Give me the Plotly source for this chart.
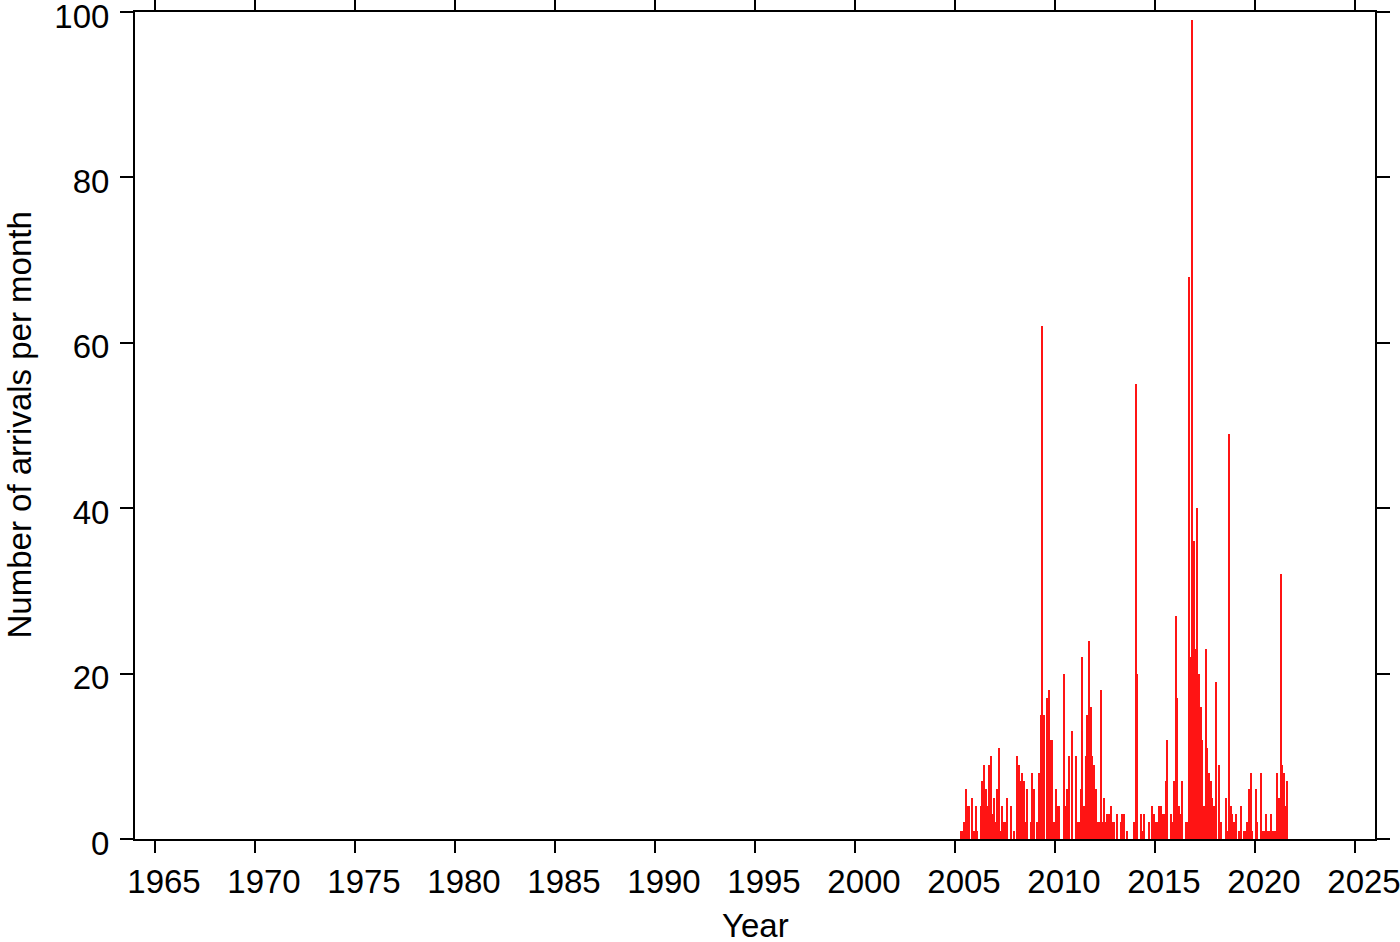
import plotly.graph_objects as go

# Monthly arrival counts, one value per month starting January 2005 (through August 2021)
start_year = 2005
counts_2005_2007 = [0, 0, 0, 1, 1, 2, 6, 4, 4, 0, 5, 1, 4, 1, 0, 4, 7, 9, 6, 4, 9, 10, 3, 5,
                    2, 6, 11, 1, 4, 2, 2, 5, 0, 4]
counts_2007_2010 = [0, 1, 0, 10, 9, 7, 8, 7, 2, 6, 0, 2, 8, 6, 0, 2, 8, 15, 62, 15, 0, 17, 18, 12,
                    12, 2, 6, 4, 4, 0, 0, 20]
counts_2010_2013 = [4, 6, 10, 0, 13, 0, 10, 2, 2, 6, 22, 4, 10, 15, 24, 16, 10, 9, 6, 2, 2, 18, 2, 5,
                    2, 3, 3, 4, 2, 2, 0, 3, 0, 2, 3, 3]
counts_2013_2016 = [0, 1, 0, 0, 0, 2, 55, 20, 0, 3, 1, 3, 0, 0, 2, 0, 4, 3, 2, 2, 4, 4, 3, 3,
                    7, 12, 0, 3, 2, 7, 27, 17, 4, 3, 7, 0]
counts_2016_2018 = [2, 2, 68, 22, 99, 36, 23, 40, 20, 16, 12, 4, 23, 11, 8, 7, 5, 4, 19, 0, 9, 2]
counts_2018_2021 = [0, 0, 5, 1, 49, 4, 3, 2, 3, 0, 1, 4, 0, 1, 1, 2, 6, 8, 1, 0, 6, 2, 0, 8,
                    1, 1, 3, 1, 1, 3, 1, 1, 1, 8, 5, 32, 9, 8, 4, 7]

counts = (counts_2005_2007 + counts_2007_2010 + counts_2010_2013 +
          counts_2013_2016 + counts_2016_2018 + counts_2018_2021)
# decimal year at the middle of each month
years = [start_year + (i + 0.5) / 12 for i in range(len(counts))]

x_ticks = [1965, 1970, 1975, 1980, 1985, 1990, 1995, 2000, 2005, 2010, 2015, 2020, 2025]
y_ticks = [0, 20, 40, 60, 80, 100]

x_title = "Year"
y_title = "Number of arrivals per month"

FONT = "Liberation Sans, Arial, Helvetica, sans-serif"
FS = 33

fig = go.Figure(
    go.Bar(
        x=years,
        y=counts,
        width=1 / 12,
        marker=dict(color="#ff1414", line=dict(width=0)),
        hovertemplate="%{x:.2f}: %{y}<extra></extra>",
    )
)

fig.update_layout(
    width=1400,
    height=942,
    margin=dict(l=135, r=25, t=12, b=103),
    paper_bgcolor="white",
    plot_bgcolor="white",
    bargap=0,
    showlegend=False,
    font=dict(family=FONT, size=FS, color="black"),
    annotations=[
        dict(text=x_title, xref="paper", yref="paper", x=0.5, y=0,
             xanchor="center", yanchor="middle", yshift=-86, showarrow=False,
             font=dict(family=FONT, size=FS, color="black")),
        dict(text=y_title, xref="paper", yref="paper", x=0, y=0.5,
             xanchor="center", yanchor="middle", xshift=-116, textangle=-90,
             showarrow=False, font=dict(family=FONT, size=FS, color="black")),
    ],
)

fig.update_xaxes(
    range=[1964, 2026],
    tickmode="array",
    tickvals=x_ticks,
    ticktext=[str(v) for v in x_ticks],
    ticks="outside",
    ticklen=12,
    tickwidth=1.5,
    tickcolor="black",
    showline=True,
    linewidth=2,
    linecolor="black",
    mirror="ticks",
    showgrid=False,
    zeroline=False,
    ticklabeloverflow="allow",
    ticklabelshift=9,
    tickfont=dict(family=FONT, size=FS, color="black"),
    automargin=False,
)

fig.update_yaxes(
    range=[0, 100],
    tickmode="array",
    tickvals=y_ticks,
    ticktext=[str(v) for v in y_ticks],
    ticks="outside",
    ticklen=13,
    tickwidth=1.5,
    tickcolor="black",
    showline=True,
    linewidth=2,
    linecolor="black",
    mirror="ticks",
    showgrid=False,
    zeroline=False,
    ticklabeloverflow="allow",
    ticklabelstandoff=4,
    ticklabelshift=4,
    tickfont=dict(family=FONT, size=FS, color="black"),
    automargin=False,
)

fig.write_html(
    "out.html",
    config={"displayModeBar": False},
    post_script="document.body.style.margin='0';",
)
